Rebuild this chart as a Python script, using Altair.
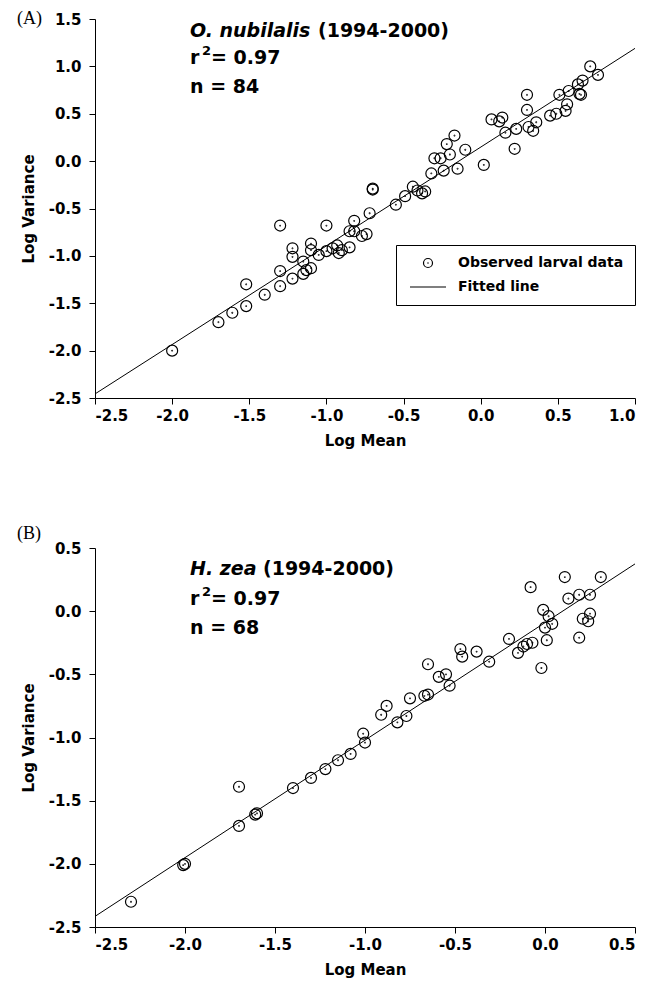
import altair as alt
import pandas as pd

# ---------------- data ----------------
# Panel A: O. nubilalis (log mean, log variance)
a_mean = [-2.00, -1.70, -1.61, -1.52, -1.52,
          -1.40, -1.30, -1.30, -1.30, -1.22, -1.22, -1.22,
          -1.15, -1.15, -1.13, -1.10, -1.10, -1.10, -1.05,
          -1.00, -1.00, -0.96, -0.93, -0.92, -0.90, -0.85,
          -0.85, -0.82, -0.82, -0.77, -0.74, -0.72, -0.70,
          -0.70, -0.55,
          -0.49, -0.44, -0.41, -0.38, -0.36, -0.32, -0.30,
          -0.26, -0.24, -0.20, -0.22, -0.17, -0.15, -0.10,
          0.02, 0.07, 0.12, 0.14, 0.16, 0.22, 0.23, 0.30,
          0.30, 0.31, 0.34, 0.36, 0.45, 0.49, 0.51, 0.55,
          0.56, 0.57, 0.63, 0.64, 0.65, 0.66, 0.71, 0.76]
a_var = [-2.00, -1.70, -1.60, -1.53, -1.30,
         -1.41, -1.32, -1.16, -0.68, -1.24, -1.01, -0.92,
         -1.06, -1.19, -1.15, -1.13, -0.94, -0.87, -0.99,
         -0.95, -0.68, -0.92, -0.89, -0.97, -0.94, -0.91,
         -0.74, -0.74, -0.63, -0.79, -0.77, -0.55, -0.29,
         -0.30, -0.46,
         -0.37, -0.27, -0.31, -0.34, -0.32, -0.13, 0.03,
         0.03, -0.10, 0.07, 0.18, 0.27, -0.08, 0.12,
         -0.04, 0.44, 0.42, 0.46, 0.30, 0.13, 0.34, 0.70,
         0.54, 0.36, 0.32, 0.41, 0.48, 0.50, 0.70, 0.53,
         0.60, 0.74, 0.81, 0.71, 0.70, 0.85, 1.00, 0.91]

# Panel B: H. zea
b_mean = [-2.30, -2.00, -2.01, -1.70, -1.70, -1.60, -1.61,
          -1.40, -1.30, -1.22, -1.15, -1.08, -1.00, -1.01,
          -0.91, -0.88, -0.82, -0.77, -0.75, -0.67, -0.65, -0.65,
          -0.59, -0.55, -0.53, -0.47, -0.46, -0.38, -0.31,
          -0.20, -0.15, -0.12, -0.10, -0.07, -0.02, 0.01, 0.19,
          -0.08, 0.11, 0.31, 0.13, 0.19, 0.25,
          -0.01, 0.02, 0.00, 0.04, 0.21, 0.24, 0.25]
b_var = [-2.30, -2.00, -2.01, -1.70, -1.39, -1.60, -1.61,
         -1.40, -1.32, -1.25, -1.18, -1.13, -1.04, -0.97,
         -0.82, -0.75, -0.88, -0.83, -0.69, -0.67, -0.66, -0.42,
         -0.52, -0.50, -0.59, -0.30, -0.36, -0.32, -0.40,
         -0.22, -0.33, -0.28, -0.26, -0.25, -0.45, -0.23, -0.21,
         0.19, 0.27, 0.27, 0.10, 0.13, 0.13,
         0.01, -0.04, -0.13, -0.10, -0.06, -0.08, -0.02]

# fitted lines (end points)
a_fit_mean = [-2.5, 1.0]
a_fit_var = [-2.457, 1.19]
b_fit_mean = [-2.5, 0.5]
b_fit_var = [-2.416, 0.374]

a_x_ticks = [-2.5, -2.0, -1.5, -1.0, -0.5, 0.0, 0.5, 1.0]
a_y_ticks = [-2.5, -2.0, -1.5, -1.0, -0.5, 0.0, 0.5, 1.0, 1.5]
b_x_ticks = [-2.5, -2.0, -1.5, -1.0, -0.5, 0.0, 0.5]
b_y_ticks = [-2.5, -2.0, -1.5, -1.0, -0.5, 0.0, 0.5]

series_names = ["Observed larval data", "Fitted line"]
a_texts = ["(A)", "O. nubilalis", "(1994-2000)", "r", "2", "= 0.97", "n  = 84"]
b_texts = ["(B)", "H. zea", "(1994-2000)", "r", "2", "= 0.97", "n  = 68"]

# ---------------- styling ----------------
FONT = "DejaVu Sans"
SERIF = "Liberation Serif"
W, H = 540, 379
DOT = ("M-1,0A1,1,0,1,0,1,0A1,1,0,1,0,-1,0Z"
       "M-0.06,0A0.06,0.06,0,1,0,0.06,0A0.06,0.06,0,1,0,-0.06,0Z")
LINE = "M-4,0L4,0"
LE = "(datum.value < 0 ? '-' : '') + format(abs(datum.value), '.1f')"


def txt(s, x, y, size, weight="bold", style="normal", font=FONT):
    return alt.Chart(pd.DataFrame({"t": [s]})).mark_text(
        align="left", baseline="alphabetic", font=font, fontSize=size,
        fontWeight=weight, fontStyle=style, color="black"
    ).encode(text="t:N", x=alt.value(x), y=alt.value(y))


def panel(mx, vy, fx, fy, xt, yt, texts, sp_w, ty, legend):
    xsc = alt.Scale(domain=[xt[0], xt[-1]], nice=False, zero=False)
    ysc = alt.Scale(domain=[yt[0], yt[-1]], nice=False, zero=False)
    X = alt.X("m:Q", scale=xsc,
              axis=alt.Axis(values=xt, title="Log Mean", labelExpr=LE))
    Y = alt.Y("v:Q", scale=ysc,
              axis=alt.Axis(values=yt, title="Log Variance", labelExpr=LE))
    pts_df = pd.DataFrame({"m": mx, "v": vy, "series": series_names[0]})
    fit_df = pd.DataFrame({"m": fx, "v": fy})
    line = alt.Chart(fit_df).mark_line(color="black", strokeWidth=1).encode(x=X, y=Y)
    if legend:
        shape = alt.Shape(
            "series:N",
            scale=alt.Scale(domain=series_names, range=[DOT, LINE]),
            legend=alt.Legend(
                title=None, orient="none", legendX=301, legendY=226,
                labelFont=FONT, labelFontSize=14, labelFontWeight="bold",
                labelColor="black", labelOffset=23, labelLimit=400,
                symbolSize=81, symbolStrokeWidth=1.2, symbolStrokeColor="black",
                symbolOffset=14,
                strokeColor="black", fillColor="white", padding=11,
                rowPadding=10,
            ),
        )
    else:
        shape = alt.value(DOT)
    pts = alt.Chart(pts_df).mark_point(
        filled=False, color="black", strokeWidth=1.2, size=121, opacity=1
    ).encode(x=X, y=Y, shape=shape)
    x0 = 95
    lab = txt(texts[0], -78, ty[0], 18, weight="normal", font=SERIF)
    sp = txt(texts[1], x0, ty[1], 19, style="italic")
    yr = txt(texts[2], x0 + sp_w, ty[1], 19)
    r = txt(texts[3], x0, ty[2], 19)
    two = txt(texts[4], x0 + 12, ty[2] - 9, 13)
    eq = txt(texts[5], x0 + 21, ty[2], 19)
    n = txt(texts[6], x0, ty[3], 19)
    return alt.layer(line, pts, lab, sp, yr, r, two, eq, n).properties(width=W, height=H)


pa = panel(a_mean, a_var, a_fit_mean, a_fit_var, a_x_ticks, a_y_ticks,
           a_texts, 128, [5, 18, 45, 74], True)
pb = panel(b_mean, b_var, b_fit_mean, b_fit_var, b_x_ticks, b_y_ticks,
           b_texts, 73, [-9, 27, 57, 86], False)

chart = alt.vconcat(pa, pb, spacing=77).resolve_scale(
    shape="independent"
).resolve_legend(
    shape="independent"
).properties(
    padding={"left": 9, "top": 2, "right": 5, "bottom": 5}
).configure_axis(
    domainColor="black", tickColor="black", tickSize=6, tickWidth=1,
    domainWidth=1, grid=False,
    labelFont=FONT, labelFontSize=15, labelFontWeight="bold", labelColor="black",
    titleFont=FONT, titleFontSize=15, titleFontWeight="bold", titleColor="black",
).configure_axisY(
    labelPadding=8, titlePadding=12
).configure_axisX(
    labelPadding=4, titlePadding=10
).configure_view(
    stroke=None
)

chart.save("out.html", embed_options={"renderer": "svg", "actions": False})
